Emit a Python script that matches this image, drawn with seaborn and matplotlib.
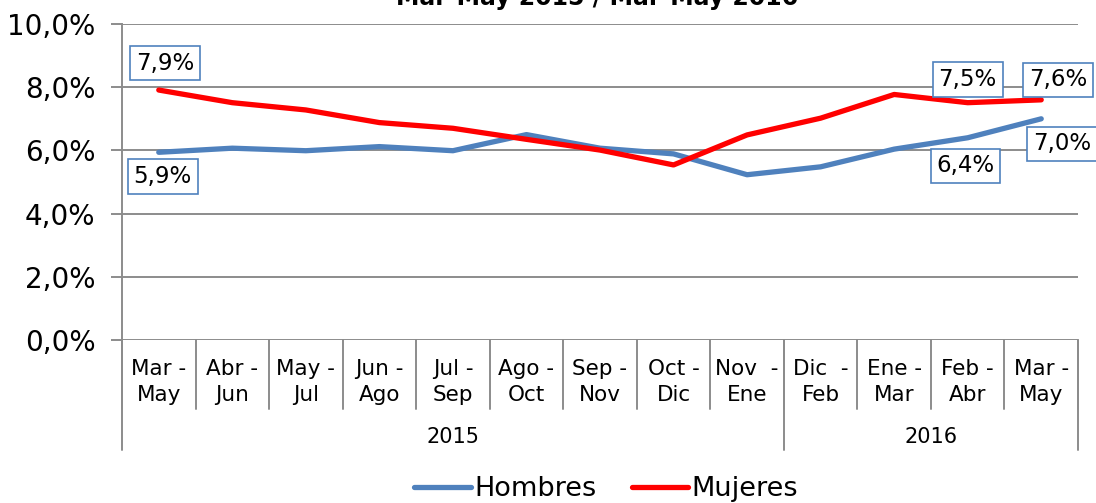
import matplotlib
matplotlib.use("Agg")
import matplotlib.pyplot as plt
import matplotlib.transforms as mtransforms
import seaborn as sns
import pandas as pd

categories = ["Mar -\nMay", "Abr -\nJun", "May -\nJul", "Jun -\nAgo", "Jul -\nSep",
              "Ago -\nOct", "Sep -\nNov", "Oct -\nDic", "Nov  -\nEne", "Dic  -\nFeb",
              "Ene -\nMar", "Feb -\nAbr", "Mar -\nMay"]
years = ["2015", "2016"]
year_counts = [9, 4]
hombres = [5.94, 6.07, 5.99, 6.12, 5.99, 6.50, 6.07, 5.89, 5.23, 5.48, 6.04, 6.40, 7.00]
mujeres = [7.91, 7.51, 7.28, 6.88, 6.70, 6.35, 6.01, 5.54, 6.49, 7.02, 7.77, 7.51, 7.60]
series_names = ["Hombres", "Mujeres"]
colors = ["#4F81BD", "#FF0000"]
yticks = [0, 2, 4, 6, 8, 10]
title = "Mar-May 2015 / Mar-May 2016"

# labels: (series index, category index, text, dx px, dy px)
point_labels = [(1, 0, "7,9%", 6, 27), (0, 0, "5,9%", 4, -24),
                (1, 11, "7,5%", 0, 23), (1, 12, "7,6%", 17, 20),
                (0, 12, "7,0%", 21, -25), (0, 11, "6,4%", -2, -28)]

sns.set_theme(style="white")
plt.rcParams['font.family'] = ['DejaVu Sans']
plt.rcParams['text.color'] = 'black'
plt.rcParams['ytick.labelcolor'] = 'black'

fig = plt.figure(figsize=(10.96, 5.03), dpi=100)
ax = fig.add_axes([122/1096, 1 - 340/503, (1078-122)/1096, (340-24)/503])

n = len(categories)
df = pd.DataFrame({
    "x": list(range(n)) * 2,
    "value": hombres + mujeres,
    "serie": [series_names[0]] * n + [series_names[1]] * n,
})
sns.lineplot(data=df, x="x", y="value", hue="serie", palette=colors,
             linewidth=3.8, ax=ax, legend=False, solid_capstyle="round")

ax.set_xlim(-0.5, n - 0.5)
ax.set_ylim(0, 10)
ax.set_yticks(yticks)
ax.set_yticklabels([f"{v:.1f}".replace(".", ",") + "%" for v in yticks], fontsize=20,
                   color="black")
ax.yaxis.grid(True, color="#8C8C8C", linewidth=1.4)
ax.set_axisbelow(True)
ax.tick_params(axis="y", which="major", left=True, length=8, width=1.4, color="#8C8C8C", pad=11)
ax.set_xticks([])
ax.set_xlabel("")
ax.set_ylabel("")
for s in ["top", "right", "bottom"]:
    ax.spines[s].set_visible(False)
ax.spines["left"].set_color("#8C8C8C")
ax.spines["left"].set_linewidth(1.4)

# multi-level category axis
trans = mtransforms.blended_transform_factory(ax.transData, ax.transAxes)
ph = (340 - 24)  # axes height px
def ya(py):  # pixel y (from top) to axes fraction
    return (340 - py) / ph

gcol = "#8C8C8C"
for i in range(n + 1):
    ax.plot([i - 0.5, i - 0.5], [0, ya(409)], transform=trans, color=gcol,
            linewidth=1.4, clip_on=False)
for i, lab in enumerate(categories):
    ax.text(i, ya(382), lab, transform=trans, ha="center", va="center",
            fontsize=15.5, linespacing=1.4, color="black")
start = 0
bounds = [-0.5]
for y, c in zip(years, year_counts):
    ax.text(start + c / 2 - 0.5, ya(437), y, transform=trans, ha="center",
            va="center", fontsize=15, color="black")
    start += c
    bounds.append(start - 0.5)
for b in bounds:
    ax.plot([b, b], [0, ya(450)], transform=trans, color=gcol,
            linewidth=1.4, clip_on=False)

# data labels
series_vals = [hombres, mujeres]
for si, ci, txt, dx, dy in point_labels:
    ax.annotate(txt, xy=(ci, series_vals[si][ci]), xytext=(dx, dy),
                textcoords="offset pixels", ha="center", va="center",
                fontsize=16.5, color="black", annotation_clip=False,
                bbox=dict(boxstyle="square,pad=0.25", fc="white", ec="#4F81BD", lw=1.2))

# legend
handles = [plt.Line2D([], [], color=c, linewidth=3.8, solid_capstyle="round") for c in colors]
fig.legend(handles, series_names, loc="center", bbox_to_anchor=(0.553, 1 - 489/503),
           ncol=2, frameon=False, fontsize=19.5, handlelength=2.1, handletextpad=0.1,
           columnspacing=1.3, labelcolor="black")

fig.text(0.545, 1 - 5/503, title, ha="center", va="baseline", fontsize=17,
         fontweight="bold", color="black")

fig.savefig("out.png", dpi=100)
